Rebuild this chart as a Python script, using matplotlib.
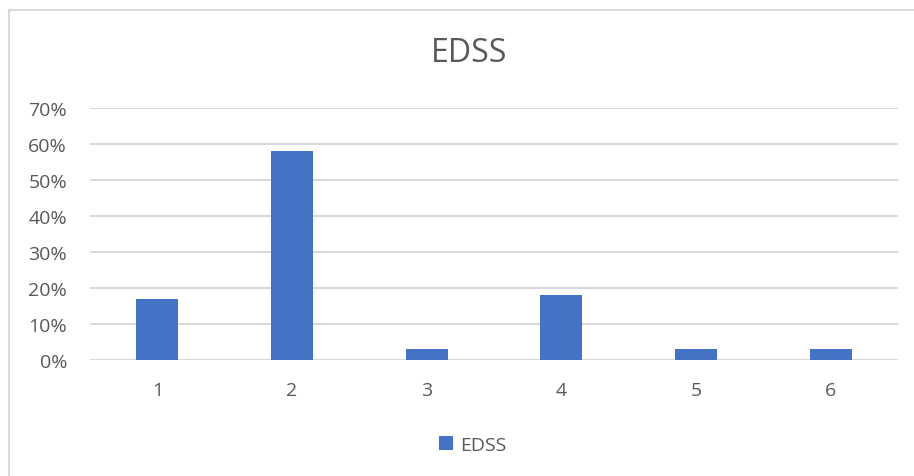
import matplotlib
matplotlib.use("Agg")
import matplotlib.pyplot as plt
from matplotlib.patches import Patch
from matplotlib.lines import Line2D
from matplotlib.ticker import PercentFormatter

categories = ["1", "2", "3", "4", "5", "6"]
values = [0.17, 0.58, 0.03, 0.18, 0.03, 0.03]
yticks = [0.0, 0.1, 0.2, 0.3, 0.4, 0.5, 0.6, 0.7]
series_name = "EDSS"
title = "EDSS"

W, H = 914, 477
fig = plt.figure(figsize=(W / 100, H / 100), dpi=100)
plt.rcParams['font.family'] = ['Open Sans', 'DejaVu Sans']
txt = "#595959"
bar_color = "#4472C4"
grid_color = "#d9d9d9"

ax = fig.add_axes([90 / W, 1 - 361 / H, (898 - 90) / W, (361 - 109) / H])
x = list(range(len(categories)))
ax.bar(x, values, width=0.31, color=bar_color, zorder=3)
ax.set_xlim(-0.5, len(categories) - 0.5)
ax.set_ylim(0, 0.7)
ax.set_yticks(yticks)
ax.yaxis.set_major_formatter(PercentFormatter(1.0, decimals=0))
ax.set_xticks(x)
ax.set_xticklabels(categories)
ax.grid(axis='y', color=grid_color, linewidth=1.5, zorder=0)
for s in ax.spines.values():
    s.set_visible(False)
ax.tick_params(axis='both', length=0, labelsize=14, labelcolor=txt)
ax.tick_params(axis='y', pad=16.5)
ax.tick_params(axis='x', pad=15)

fig.text(469 / W, 1 - 54 / H, title, ha='center', va='center', fontsize=23, color=txt)

handles = [Patch(facecolor=bar_color, edgecolor='none')]
fig.legend(handles, [series_name], loc='center', bbox_to_anchor=(473 / W, 1 - 446 / H),
           frameon=False, fontsize=14, labelcolor=txt, handlelength=0.7, handleheight=0.7,
           handletextpad=0.4)

# chart border (top and left visible)
fig.add_artist(Line2D([9 / W, 1], [1 - 10.5 / H, 1 - 10.5 / H], transform=fig.transFigure,
                      color=grid_color, linewidth=1.5))
fig.add_artist(Line2D([9 / W, 9 / W], [0, 1 - 10.5 / H], transform=fig.transFigure,
                      color=grid_color, linewidth=1.5))

fig.savefig("out.png", dpi=100, facecolor="white")
